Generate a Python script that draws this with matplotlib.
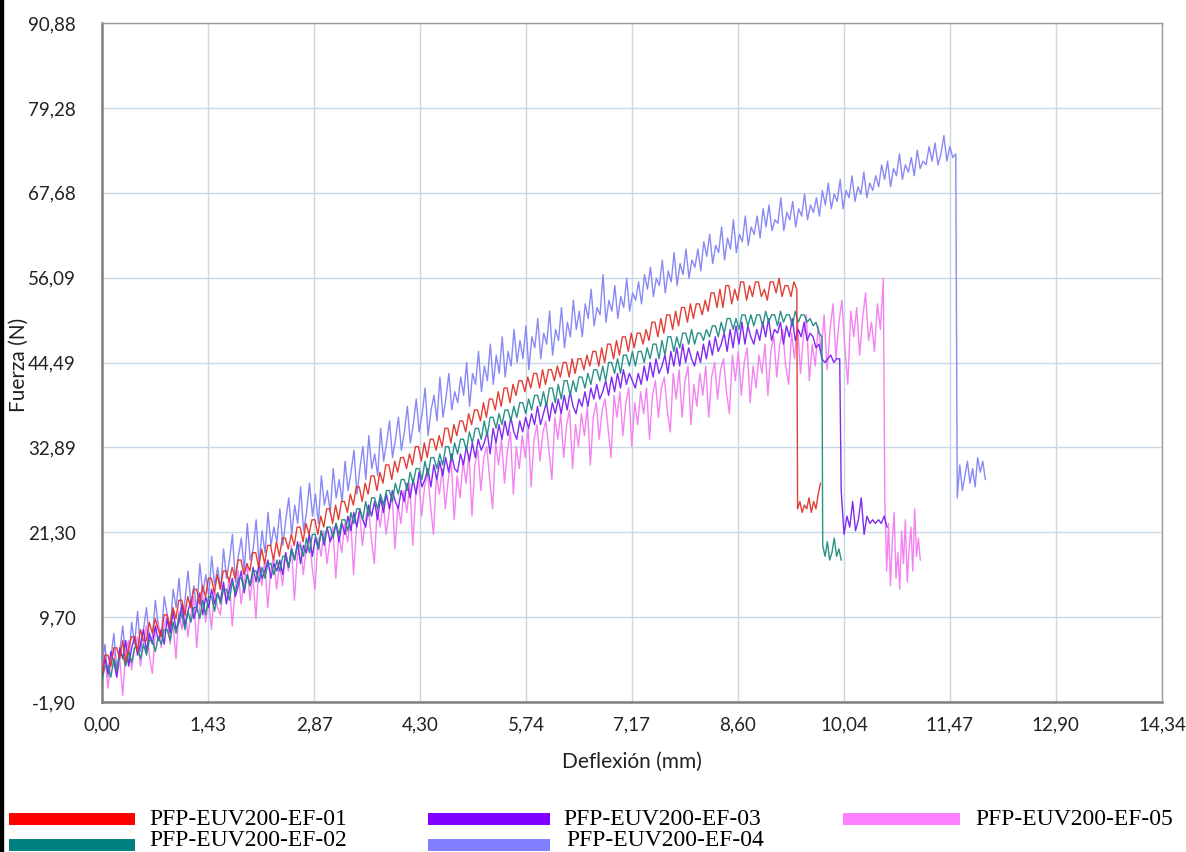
import numpy as np
import matplotlib
matplotlib.use("Agg")
import matplotlib.pyplot as plt
from matplotlib.lines import Line2D
from matplotlib.patches import Rectangle

# ---------------------------------------------------------------------------
# Flexural test records: force (N) against deflection (mm)
# Each specimen: loading branch (from 0 up to the break) and post-break tail,
# sampled evenly over the given deflection ranges.
# ---------------------------------------------------------------------------
series_names = ["PFP-EUV200-EF-01", "PFP-EUV200-EF-02", "PFP-EUV200-EF-03",
                "PFP-EUV200-EF-04", "PFP-EUV200-EF-05"]

# EF-01
ef01_load_range = (0.0, 9.40)
ef01_load = [
    2, 4.5, 4.5, 3, 5.5, 5.5, 4, 6.5, 3.5, 5.5, 7, 7, 5, 8, 6.5, 6.5, 9, 7.5, 9.5, 8,
    7, 10, 10, 8.5, 11, 9.5, 12, 12, 10, 12.5, 11, 13.5, 13.5, 11.5, 14, 12.5, 15, 15, 13, 15.5,
    13.5, 16, 16, 14.5, 16.5, 15, 17.5, 17.5, 15.5, 17, 16, 18.5, 18.5, 16.5, 19, 17, 19.5, 19.5, 17.5, 20,
    18, 20.5, 20.5, 19, 21, 19.5, 22, 22, 20, 22.5, 21, 23, 23, 21, 23.5, 22, 24.5, 24.5, 22.5, 25,
    23, 25.5, 25.5, 24, 26.5, 25, 27.5, 27.5, 25.5, 28, 26.5, 29, 29, 27, 29.5, 28, 30.5, 30.5, 28.5, 31,
    29.5, 31.5, 31.5, 30, 32, 30.5, 33, 33, 31, 33.5, 31.5, 34, 34, 32.5, 34.5, 33, 35.5, 35.5, 33.5, 36,
    34.5, 36.5, 36.5, 35, 37.5, 36, 38, 38, 36.5, 39, 37, 39.5, 39.5, 38, 40.5, 38.5, 41, 41, 39, 41.5,
    40, 42, 42, 40.5, 42.5, 41, 43, 43, 41, 43.5, 41.5, 43.5, 43.5, 42, 44, 42.5, 44.5, 44.5, 42.5, 45,
    43, 45, 45, 43.5, 45.5, 44, 46, 46, 44, 46.5, 44.5, 47, 47, 45, 47.5, 45.5, 48, 48, 46, 48.5,
    46.5, 48.5, 48.5, 47, 49, 47.5, 50, 50, 48, 50.5, 48.5, 51, 51, 49, 51.5, 49.5, 52, 52, 50, 52.5,
    50.5, 52.5, 52.5, 51, 53, 51.5, 54, 54, 52, 54.5, 52, 55, 55, 52.5, 54.5, 53, 55.5, 55.5, 53, 55,
    53.5, 55.5, 55.5, 53.5, 54.5, 53, 55.5, 55.5, 54, 56, 53.5, 55, 55, 53.5, 55.5, 54.5]
ef01_tail_range = (9.41, 9.72)
ef01_tail = [24.5, 25.5, 24.0, 25.0, 24.5, 26.0, 24.0, 25.5, 24.5, 26.5, 28.0]

# EF-02
ef02_load_range = (0.0, 9.74)
ef02_load = [
    1, 3, 3, 1.5, 4, 2.5, 4.5, 4.5, 3, 5, 3.5, 5.5, 5.5, 4, 6, 4.5, 6.5, 6.5, 5, 7,
    6, 8, 8, 6.5, 9, 7.5, 10, 10, 8, 10.5, 9, 11, 11, 9.5, 12, 10, 12.5, 12.5, 10.5, 13,
    11.5, 13.5, 13.5, 12, 14.5, 13, 15, 15, 13.5, 15.5, 14, 16, 16, 14.5, 16.5, 15, 17, 17, 15.5, 17.5,
    16, 18, 18, 16.5, 19, 17.5, 19.5, 19.5, 18, 20.5, 18.5, 21, 21, 19, 21.5, 20, 22, 22, 20.5, 22.5,
    21, 23, 23, 21.5, 24, 22.5, 24.5, 24.5, 23, 25.5, 23.5, 26, 26, 24.5, 26.5, 25, 27, 27, 25.5, 28,
    26.5, 28.5, 28.5, 27, 29.5, 28, 30, 30, 28.5, 31, 29, 31.5, 31.5, 30, 32, 30.5, 33, 33, 31, 33.5,
    32, 34, 34, 32.5, 35, 33.5, 35.5, 35.5, 34, 36.5, 34.5, 37, 37, 35.5, 37.5, 36, 38, 38, 36.5, 38.5,
    37, 39, 39, 37.5, 39.5, 38, 40, 40, 38.5, 40.5, 38.5, 41, 41, 39, 41.5, 39.5, 42, 42, 40, 42,
    40.5, 42.5, 42.5, 41, 43, 41.5, 43.5, 43.5, 42, 44, 42, 44.5, 44.5, 43, 45, 43, 45.5, 45.5, 44, 46,
    44, 46, 46, 44.5, 46.5, 45, 47, 47, 45, 47.5, 45.5, 48, 48, 46, 48, 46.5, 48.5, 48.5, 47, 49,
    47, 48.5, 48.5, 47.5, 49, 48, 49.5, 49.5, 48, 50, 48.5, 50.5, 50.5, 49, 50.5, 49, 51, 51, 49.5, 51,
    49.5, 51, 51, 49.5, 51.5, 50, 51, 51, 49.5, 51.5, 50, 51, 51, 49.5, 51.5, 50, 51, 51, 50, 50.5,
    49.5, 50, 48.5, 48]
ef02_tail_range = (9.75, 10.00)
ef02_tail = [19.5, 18.0, 20.0, 17.5, 18.5, 20.5, 18.0, 19.0, 17.5]

# EF-03
ef03_load_range = (0.0, 9.98)
ef03_load = [
    1.5, 4, 2, 5, 3.5, 1.5, 5.5, 4, 6.5, 3, 5.5, 7, 4.5, 6, 8, 5, 7.5, 6, 8.5, 6.5,
    8, 6, 9.5, 7.5, 10.5, 8, 9, 11.5, 8.5, 10.5, 12, 9.5, 11, 13, 10, 12.5, 11, 13.5, 11.5, 13,
    12, 14.5, 11.5, 13.5, 15, 12.5, 14, 16, 13, 15.5, 14, 16.5, 14.5, 17, 15, 16, 17.5, 15, 17, 16,
    17.5, 15.5, 18.5, 16.5, 19, 17.5, 20, 17, 19.5, 18.5, 21, 18, 20.5, 19, 21.5, 19.5, 22, 20, 21, 22.5,
    20, 22.5, 21, 23.5, 21.5, 24, 22, 24.5, 23, 22, 25, 23.5, 25.5, 23, 26, 24, 26.5, 24.5, 27, 25.5,
    24.5, 27, 25.5, 28, 26, 28.5, 26.5, 29.5, 27.5, 28.5, 30, 27.5, 30.5, 28.5, 31, 29, 31.5, 29.5, 32, 30,
    29.5, 32, 30.5, 33, 31, 33.5, 31.5, 34, 32.5, 33.5, 35, 32, 35.5, 33.5, 36, 34, 36.5, 34.5, 37, 35,
    34, 36.5, 35, 37, 35.5, 37.5, 36, 38.5, 36, 37.5, 39, 36.5, 39, 37.5, 39.5, 37.5, 40, 38, 40.5, 38.5,
    37.5, 39.5, 38.5, 40.5, 38.5, 41, 39.5, 41.5, 39.5, 40.5, 42, 40, 42.5, 40.5, 43, 41, 43.5, 41.5, 43, 42,
    41, 43, 41.5, 44, 42, 44.5, 42.5, 45, 43, 44, 45.5, 43, 46, 44, 46.5, 44, 47, 44.5, 46.5, 45,
    44, 46, 44.5, 47, 45, 47.5, 45.5, 48, 46, 47, 48.5, 46, 49, 46.5, 49.5, 47, 50, 47, 49.5, 48,
    47, 49, 47.5, 50, 48, 50.5, 47.5, 49, 48.5, 50, 47, 49.5, 48, 50.5, 47.5, 49, 48, 50, 47.5, 48.5,
    48, 46.5, 47, 45, 44.5, 45, 45.5, 44.5, 45, 45]
ef03_tail_range = (10.00, 10.62)
ef03_tail = [27.0, 21.0, 23.5, 22.0, 25.5, 21.5, 23.0, 26.0, 21.0, 23.5,
             22.5, 23.0, 22.5, 23.0, 22.5, 23.5, 22.0]

# EF-04
ef04_load_range = (0.0, 11.55)
ef04_load = [
    3, 6, 1.5, 4, 7.5, 2.5, 5, 8.5, 4, 3.5, 9, 6, 10.5, 5, 8, 11, 6.5, 7, 12, 8.5,
    7, 12.5, 10, 8, 13.5, 11, 15, 9.5, 12, 16, 11.5, 14, 10.5, 17, 13, 15.5, 12.5, 18, 14, 16.5,
    13.5, 19, 15, 17.5, 21, 14.5, 18, 20.5, 16, 22.5, 17.5, 19, 23, 17, 21.5, 18.5, 24, 19.5, 22, 20,
    24.5, 19.5, 23, 26, 21, 25, 22.5, 27.5, 21.5, 24, 28, 23.5, 26.5, 22.5, 29, 25, 27, 24, 30, 26,
    28.5, 25.5, 31, 27, 29.5, 32.5, 26.5, 30, 33, 28.5, 34.5, 30, 32, 29, 35.5, 31, 33.5, 36.5, 31.5, 34,
    37, 32.5, 35, 38.5, 33.5, 36, 39.5, 35, 37.5, 41, 34.5, 38, 40, 36.5, 42.5, 37, 39.5, 43, 38, 40.5,
    39, 42.5, 40, 44.5, 38.5, 43, 41.5, 46, 40.5, 44, 42, 47, 41.5, 45.5, 43, 48, 42.5, 46, 44, 49,
    44.5, 47.5, 45, 49.5, 43.5, 48, 46.5, 50.5, 45, 48.5, 47, 51.5, 45.5, 49, 47.5, 52, 46.5, 50, 48, 53,
    49, 51.5, 48, 52.5, 50.5, 54.5, 49.5, 52, 51, 56.5, 50, 53, 51.5, 55, 50.5, 53.5, 52, 56, 51.5, 54,
    53, 55.5, 52.5, 56.5, 54.5, 57.5, 53.5, 56, 55, 58.5, 54, 57, 55.5, 59.5, 55, 58, 56.5, 60, 56, 58.5,
    57.5, 60, 57, 61, 59, 62, 58, 60.5, 59.5, 63, 58.5, 61.5, 60, 64, 59.5, 62, 61, 64.5, 60.5, 63,
    62, 64.5, 61.5, 65.5, 63, 66, 62.5, 64, 63.5, 67, 62.5, 65, 64, 66.5, 63, 65.5, 64.5, 67.5, 64, 66,
    65, 67, 64.5, 68, 66, 69, 65.5, 67.5, 66.5, 69.5, 65.5, 68, 67, 70, 66.5, 68.5, 67.5, 70.5, 67, 69,
    68, 70, 68.5, 71.5, 69.5, 72, 68.5, 71, 70, 73, 69.5, 71.5, 70.5, 72.5, 70, 73.5, 71, 72, 71.5, 74,
    72, 74.5, 71.5, 73, 75.5, 72, 74, 72.5, 73]
ef04_tail_range = (11.57, 11.95)
ef04_tail = [26.0, 30.5, 27.0, 29.0, 31.0, 28.0, 30.0, 27.5, 31.5, 29.5,
             31.0, 28.5]

# EF-05
ef05_load_range = (0.0, 10.57)
ef05_load = [
    2, 4.5, 0, 3.5, 5.5, 1.5, 4, -1, 5, 6.5, 2.5, 5.5, 7, 3, 6, 8.5, 4.5, 2, 7.5, 9,
    5.5, 8.5, 10, 6, 9, 4, 10.5, 8, 11.5, 7, 10, 12.5, 5.5, 11, 13, 9, 12, 8, 13.5, 11,
    10, 14, 12, 15, 8.5, 13.5, 16, 11.5, 14.5, 17, 12, 15.5, 9.5, 16.5, 14, 17.5, 11, 16, 18, 13.5,
    17, 14, 18.5, 16, 19.5, 12, 18, 20, 15.5, 19, 21, 16.5, 13.5, 20.5, 18, 21.5, 17, 20, 22, 15,
    21, 18.5, 22.5, 20, 23.5, 15.5, 22, 24, 19.5, 23, 25, 20.5, 17, 24.5, 22, 25.5, 21, 24, 26.5, 19,
    25, 22.5, 27, 24, 28, 19.5, 26.5, 28.5, 23.5, 27.5, 29.5, 25, 21, 29, 26.5, 30, 24.5, 28.5, 31, 23,
    29, 26, 31, 28, 32, 23.5, 30.5, 32.5, 27, 31.5, 33, 28.5, 24.5, 33.5, 30.5, 34, 28, 32.5, 35, 26.5,
    33, 30, 34.5, 31.5, 35.5, 27.5, 34, 36, 31, 35, 36.5, 32.5, 28.5, 37, 34, 37.5, 31.5, 36, 38, 30,
    36, 33, 37.5, 34.5, 38.5, 30.5, 37, 39, 34, 38, 39.5, 35.5, 31.5, 40, 37, 40.5, 34.5, 39, 41, 33,
    39, 36, 40.5, 37.5, 41, 34, 40, 42, 37, 41, 42.5, 38, 35, 43, 39.5, 43.5, 37, 42, 44, 36,
    41.5, 38.5, 43, 40, 44, 37, 42.5, 44.5, 39.5, 43.5, 45, 40.5, 37.5, 45.5, 42, 46, 40, 44.5, 46.5, 39,
    44, 41, 45.5, 43, 47, 40, 46, 48, 42.5, 47, 49, 44, 41.5, 48.5, 45, 50, 43, 48, 51, 42,
    47, 44, 49.5, 46, 51, 43.5, 49, 52.5, 45, 50, 53, 46.5, 41.5, 51.5, 48, 52, 45.5, 50.5, 54, 47.5,
    50, 46, 52.5, 49, 56]
ef05_tail_range = (10.59, 11.07)
ef05_tail = [26, 16, 22.5, 14, 20, 24, 15, 18.5, 13.5, 21.5,
             17, 23, 14.5, 19, 22, 16, 24.5, 18, 20.5, 17.5]

# Axis ticks
x_ticks = [0.00, 1.43, 2.87, 4.30, 5.74, 7.17, 8.60, 10.04, 11.47, 12.90, 14.34]
y_ticks = [-1.90, 9.70, 21.30, 32.89, 44.49, 56.09, 67.68, 79.28, 90.88]

# ---------------------------------------------------------------------------
line_colors = ["#E0352B", "#1E8C80", "#7A1FF0", "#8383F5", "#F47CF2"]
legend_colors = ["#FF0000", "#008080", "#8000FF", "#8080FF", "#FF80FF"]

records = [
    (ef01_load_range, ef01_load, ef01_tail_range, ef01_tail),
    (ef02_load_range, ef02_load, ef02_tail_range, ef02_tail),
    (ef03_load_range, ef03_load, ef03_tail_range, ef03_tail),
    (ef04_load_range, ef04_load, ef04_tail_range, ef04_tail),
    (ef05_load_range, ef05_load, ef05_tail_range, ef05_tail),
]


def build_curve(load_range, load, tail_range, tail):
    xl = np.linspace(load_range[0], load_range[1], len(load))
    xt = np.linspace(tail_range[0], tail_range[1], len(tail))
    return np.concatenate([xl, xt]), np.concatenate([load, tail])


W, H = 1186, 852
fig = plt.figure(figsize=(W / 100, H / 100), dpi=100)
fig.patch.set_facecolor("white")
ax = fig.add_axes([102 / W, 1 - 702 / H, (1162 - 102) / W, (702 - 23) / H])

# draw order: EF-04 at the back, EF-01 in front
order = [3, 4, 2, 1, 0]
for z, i in enumerate(order):
    x, y = build_curve(*records[i])
    ax.plot(x, y, color=line_colors[i], lw=1.0, alpha=0.95, zorder=3 + z)

ax.set_xlim(x_ticks[0], x_ticks[-1])
ax.set_ylim(y_ticks[0], y_ticks[-1])
ax.set_xticks(x_ticks)
ax.set_yticks(y_ticks)
fmt = lambda v: f"{v:.2f}".replace(".", ",")
ax.set_xticklabels([fmt(v) for v in x_ticks], fontsize=13.5, family="Lato", color="#222222")
ax.set_yticklabels([fmt(v) for v in y_ticks], fontsize=13.5, family="Lato", color="#222222")
ax.tick_params(axis="both", length=0)
ax.tick_params(axis="y", pad=19)
ax.tick_params(axis="x", pad=10)
ax.grid(True, color="#C9D8E6", lw=1.0)
ax.set_axisbelow(True)

for side in ["left", "bottom"]:
    ax.spines[side].set_color("#7F7F7F")
    ax.spines[side].set_linewidth(1.8)
for side in ["top", "right"]:
    ax.spines[side].set_color("#9A9A9A")
    ax.spines[side].set_linewidth(1.0)

fig.text(632 / W, 1 - 762 / H, "Deflexión (mm)", fontsize=15, family="Lato",
         color="#222222", ha="center", va="center")
fig.text(19 / W, 1 - 365 / H, "Fuerza (N)", fontsize=15, family="Lato",
         color="#222222", ha="center", va="center", rotation=90)

# legend below the plot, three columns
legend_slots = [(9, 819), (9, 845), (428, 819), (428, 845), (843, 819)]
legend_baseline = [825, 846, 825, 846, 825]
handle_len = [126, 126, 122, 122, 117]
text_gap = [14, 14, 13, 16, 15]
for k, (px, py) in enumerate(legend_slots):
    x0 = px / W
    x1 = (px + handle_len[k]) / W
    yy = 1 - py / H
    fig.add_artist(Line2D([x0, x1], [yy, yy], color=legend_colors[k], lw=8.6,
                          solid_capstyle="butt"))
    fig.text((px + handle_len[k] + text_gap[k]) / W, 1 - legend_baseline[k] / H,
             series_names[k], fontsize=17, family="Liberation Serif",
             va="baseline", ha="left", color="#000000")

# dark edge strip on the left border
fig.add_artist(Rectangle((0, 0), 3 / W, 1, transform=fig.transFigure,
                         color="black", zorder=10))

fig.savefig("out.png", dpi=100)
